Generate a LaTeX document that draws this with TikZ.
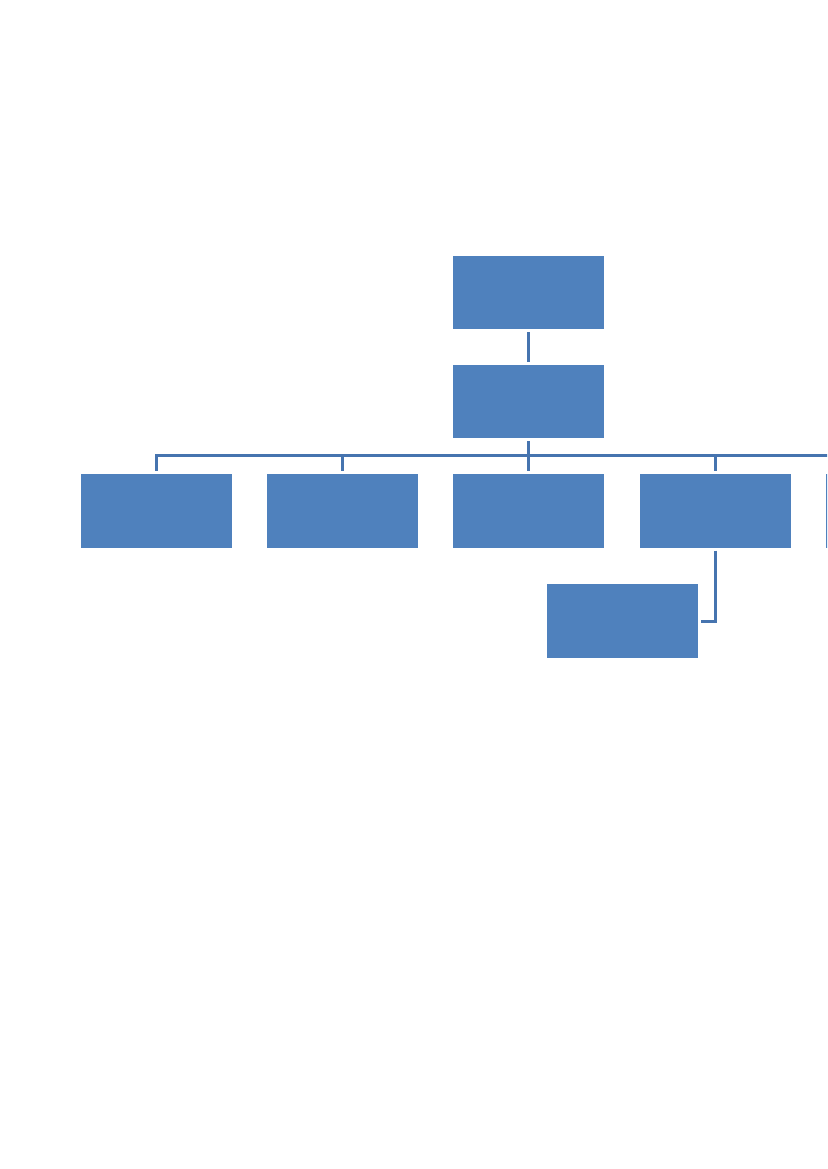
\documentclass[tikz,border=0pt]{standalone}
\definecolor{boxblue}{HTML}{4F81BD}
\definecolor{lineblue}{HTML}{4674AF}
\begin{document}
\begin{tikzpicture}[x=1pt,y=-1pt,
  box/.style={fill=boxblue,draw=none,inner sep=0pt,minimum width=151pt,minimum height=73.5pt},
  conn/.style={draw=lineblue,line width=3pt,shorten <=3pt,shorten >=3pt}]
\useasboundingbox (0,0) rectangle (827,1169);
\clip (0,0) rectangle (827,1169);
\fill[white] (0,0) rectangle (827,1169);
\node[box] (t) at (528.5,292.5) {};
\node[box] (m) at (528.5,401.5) {};
\node[box] (b1) at (156,510.75) {};
\node[box] (b2) at (342.5,510.75) {};
\node[box] (b3) at (528.5,510.75) {};
\node[box] (b4) at (715.5,510.75) {};
\node[box] (b5) at (901.5,510.75) {};
\node[box] (s) at (622.5,621) {};
\draw[conn] (t.south) -- (m.south |- m.north);
\foreach \b in {b1,b2,b3,b4,b5}{
  \draw[conn] (m.south) -- ++(0,17.5) -| (\b.north);
}
\draw[conn] (b4.south) |- (s.east);
\end{tikzpicture}
\end{document}
